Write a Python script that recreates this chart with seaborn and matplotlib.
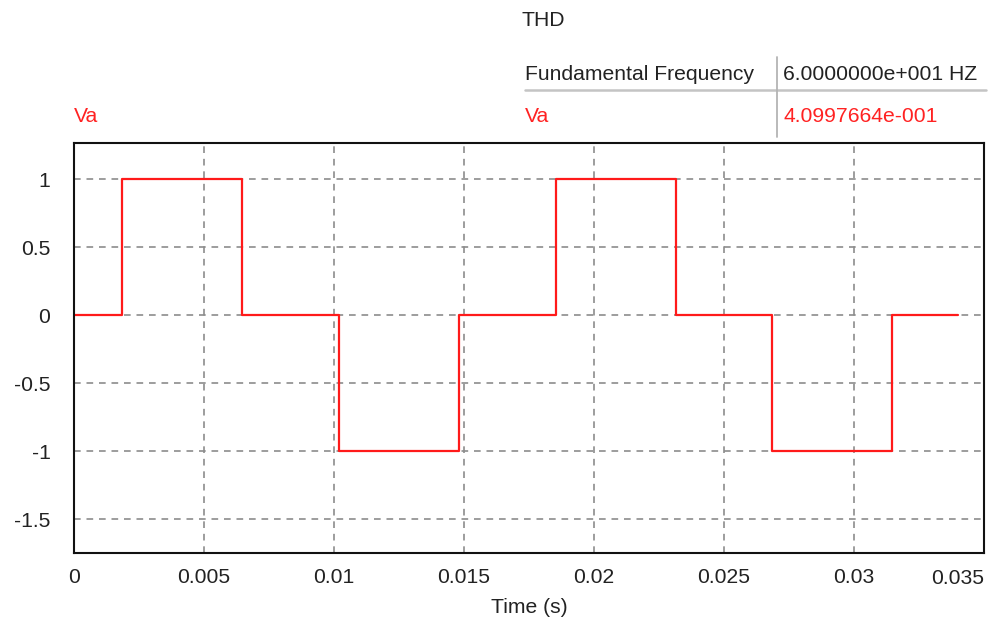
import matplotlib
matplotlib.use("Agg")
import matplotlib.pyplot as plt
from matplotlib.lines import Line2D
import seaborn as sns
import pandas as pd

# Phase voltage Va: quasi-square wave, switching instants (s) and levels
time_s = [0.0, 0.00185, 0.00648, 0.01019, 0.01481, 0.01852, 0.02315, 0.02685, 0.03148, 0.0340]
va = [0, 1, 0, -1, 0, 1, 0, -1, 0, 0]

x_ticks = [0, 0.005, 0.01, 0.015, 0.02, 0.025, 0.03, 0.035]
x_tick_labels = ["0", "0.005", "0.01", "0.015", "0.02", "0.025", "0.03", "0.035"]
y_ticks = [-1.5, -1, -0.5, 0, 0.5, 1]
y_tick_labels = ["-1.5", "-1", "-0.5", "0", "0.5", "1"]

# THD summary table
table_rows = ["Fundamental Frequency", "Va"]
table_values = ["6.0000000e+001 HZ", "4.0997664e-001"]

RED = "#ff2222"
DARK = "#222222"
FS = 15.2

sns.set_theme(style="white")
plt.rcParams["font.family"] = ["Liberation Sans", "DejaVu Sans"]

W, H = 989, 618
fig = plt.figure(figsize=(W / 100, H / 100), dpi=100)
ax = fig.add_axes([74 / W, 1 - 553 / H, (984 - 74) / W, (553 - 143) / H])

df = pd.DataFrame({"Time (s)": time_s, "Va": va})
sns.lineplot(data=df, x="Time (s)", y="Va", ax=ax, color="#ff1a1a",
             linewidth=1.6, drawstyle="steps-post", estimator=None, sort=False)

ax.set_xlim(0, 0.035)
ax.set_ylim(-1.75, 1.265)
ax.set_xticks(x_ticks)
# the last label is placed separately so it stays inside the frame
ax.set_xticklabels(x_tick_labels[:-1] + [""])
ax.set_yticks(y_ticks)
ax.set_yticklabels(y_tick_labels)
ax.tick_params(axis="both", length=0, labelsize=FS, colors=DARK)
ax.tick_params(axis="x", pad=11)
ax.tick_params(axis="y", pad=17)
ax.text(x_ticks[-1], -0.061, x_tick_labels[-1], transform=ax.get_xaxis_transform(),
        ha="right", va="center", fontsize=FS, color=DARK, clip_on=False)
ax.set_xlabel("Time (s)", fontsize=FS, color=DARK, labelpad=8)
ax.set_ylabel("")

ax.grid(True, color="#8c8c8c", linestyle=(0, (4, 3.5)), linewidth=1.2)
for sp in ax.spines.values():
    sp.set_color("#111111")
    sp.set_linewidth(1.5)


def fx(px):
    return px / W


def fy(py):
    return 1 - py / H


fig.text(fx(543), fy(20), "THD", ha="center", va="center", fontsize=FS, color=DARK)
fig.text(fx(74), fy(117), "Va", ha="left", va="center", fontsize=FS, color=RED)

row_y = [75, 117]
row_colors = [DARK, RED]
for label, value, yy, col in zip(table_rows, table_values, row_y, row_colors):
    fig.text(fx(525), fy(yy), label, ha="left", va="center", fontsize=FS, color=col)
    fig.text(fx(783), fy(yy), value, ha="left", va="center", fontsize=FS, color=col)

fig.add_artist(Line2D([fx(525), fx(986)], [fy(90), fy(90)], color="#c4c4c4", linewidth=1.8))
fig.add_artist(Line2D([fx(777), fx(777)], [fy(57), fy(137)], color="#b4b4b4", linewidth=1.3))

fig.savefig("out.png", dpi=100, facecolor="white")
